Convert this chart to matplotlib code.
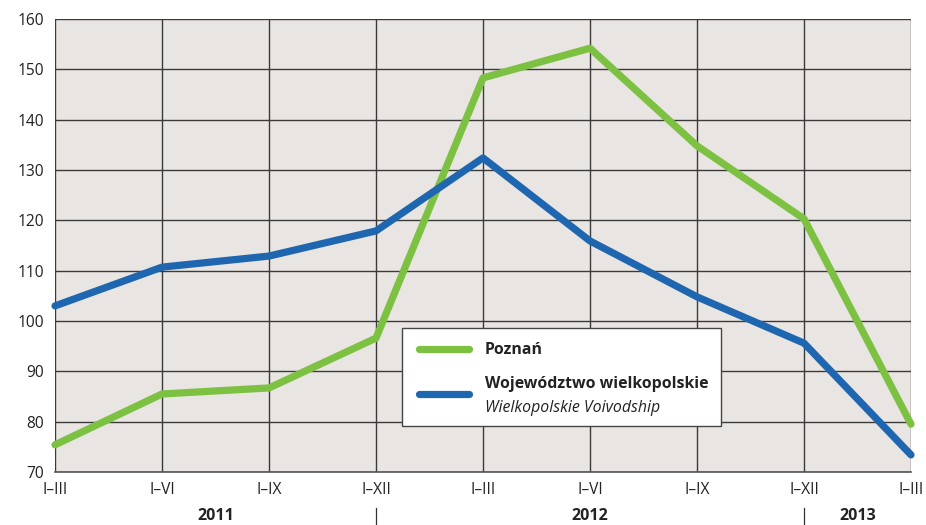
import numpy as np
import matplotlib.pyplot as plt
from matplotlib.patches import Rectangle
from matplotlib.lines import Line2D

quarters = ["I–III", "I–VI", "I–IX", "I–XII", "I–III", "I–VI", "I–IX", "I–XII", "I–III"]
years = ["2011", "2012", "2013"]
poznan = [75.4, 85.5, 86.7, 96.6, 148.3, 154.2, 134.8, 120.3, 79.5]
wielkopolska = [103.0, 110.7, 112.9, 117.9, 132.4, 115.9, 104.8, 95.6, 73.4]

GREEN = "#7dc142"
BLUE = "#1f66b1"
GRID = "#3a3a3a"
TXT = "#222222"

plt.rcParams["font.family"] = ["Open Sans", "DejaVu Sans"]

fig = plt.figure(figsize=(9.26, 5.25), dpi=100)
ax = fig.add_axes([55 / 926, 1 - 472 / 525, (911 - 55) / 926, (472 - 19) / 525])
ax.set_facecolor("#e9e5e2")

x = np.arange(len(quarters))
ax.plot(x, poznan, color=GREEN, lw=5.2, solid_capstyle="round",
        solid_joinstyle="round", clip_on=False, zorder=3)
ax.plot(x, wielkopolska, color=BLUE, lw=5.2, solid_capstyle="round",
        solid_joinstyle="round", clip_on=False, zorder=3)

ax.set_xlim(0, len(quarters) - 1)
ax.set_ylim(70, 160)
ax.set_yticks(np.arange(70, 161, 10))
ax.set_xticks(x)
ax.set_xticklabels(quarters)
ax.tick_params(length=0, labelsize=11.2, colors=TXT, pad=7)
ax.tick_params(axis="y", pad=8)
ax.grid(True, color=GRID, lw=1.0)
ax.set_axisbelow(True)
for s in ["top", "right", "left"]:
    ax.spines[s].set_visible(False)
ax.spines["bottom"].set_color("#555555")
ax.spines["bottom"].set_linewidth(1.2)

# year labels under the quarter ticks
trans = ax.get_xaxis_transform()
spans = [(0, 3), (3, 7), (7, 8)]
for yr, (a, b) in zip(years, spans):
    ax.text((a + b) / 2, -0.097, yr, transform=trans, ha="center", va="center",
            fontsize=11.5, fontweight="bold", color=TXT)
for sep in [3, 7]:
    ax.plot([sep, sep], [-0.08, -0.12], transform=trans, color="#333333",
            lw=0.9, clip_on=False)

# legend box
def fx(px):
    return px / 926

def fy(py):
    return 1 - py / 525

fig.patches.append(Rectangle((fx(402), fy(426)), fx(721) - fx(402), fy(328) - fy(426),
                             transform=fig.transFigure, facecolor="white",
                             edgecolor="#444444", lw=1.0, zorder=5))
fig.lines.append(Line2D([fx(419), fx(469)], [fy(349), fy(349)], transform=fig.transFigure,
                        color=GREEN, lw=5.2, solid_capstyle="round", zorder=6))
fig.lines.append(Line2D([fx(419), fx(469)], [fy(394), fy(394)], transform=fig.transFigure,
                        color=BLUE, lw=5.2, solid_capstyle="round", zorder=6))
fig.text(fx(485), fy(350), "Poznań", fontsize=11.4, fontweight="bold",
         va="center", color=TXT, zorder=7)
fig.text(fx(485), fy(384), "Województwo wielkopolskie", fontsize=11.4,
         fontweight="bold", va="center", color=TXT, zorder=7)
fig.text(fx(485), fy(408), "Wielkopolskie Voivodship", fontsize=11.4,
         fontstyle="italic", va="center", color=TXT, zorder=7)

fig.savefig("out.png", dpi=100)
